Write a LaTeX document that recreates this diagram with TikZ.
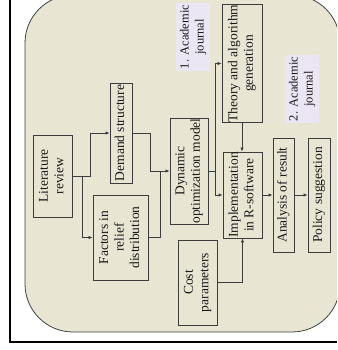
\documentclass[tikz,border=0pt]{standalone}
\usepackage{fontspec}
\setmainfont{Liberation Serif}
\usetikzlibrary{arrows.meta}
\definecolor{bg}{RGB}{232,229,211}
\definecolor{lav}{RGB}{234,230,244}
\definecolor{ln}{RGB}{60,60,60}
\tikzset{
  box/.style={draw=ln, line width=0.7pt, inner sep=0pt, align=center,
    font=\fontsize{13.5}{15.5}\selectfont, text=black!90},
  conn/.style={draw=ln, line width=0.6pt},
  arr/.style={conn, -{Latex[length=4pt,width=3.2pt]}},
  lab/.style={fill=lav, inner sep=2pt, align=center,
    font=\fontsize{12.5}{15}\selectfont, text=black!90}
}
\newcommand{\rt}[1]{\rotatebox{90}{\begin{tabular}{@{}c@{}}#1\end{tabular}}}
\begin{document}
\begin{tikzpicture}[x=1pt,y=-1pt]
\useasboundingbox (0,0) rectangle (337,350);
\clip (0,0) rectangle (337,350);
\fill[white] (0,0) rectangle (337,350);
\draw[black, line width=1.2pt] (10,0) -- (10,342) -- (337,342);
\draw[fill=bg, draw=black!75, line width=0.8pt, rounded corners=48pt] (25,-5) rectangle (340,332);

\node[lab] (j1) at (193,37) {\rt{1. Academic\\journal}};
\node[lab] (j2) at (302,89) {\rt{2. Academic\\journal}};

\node[box, minimum width=39pt, minimum height=82pt] (lit) at (52.5,176) {\rt{Literature\\review}};
\node[box, minimum width=22pt, minimum height=100pt] (demand) at (121,133) {\rt{Demand structure}};
\node[box, minimum width=55pt, minimum height=85pt] (factors) at (120.5,237.5) {\rt{Factors in\\relief\\distribution}};
\node[box, minimum width=38pt, minimum height=106pt] (dynamic) at (189,171) {\rt{Dynamic\\optimization model}};
\node[box, minimum width=40pt, minimum height=117pt] (theory) at (242,63.5) {\rt{Theory and algorithm\\generation}};
\node[box, minimum width=39pt, minimum height=86pt] (impl) at (242.5,195) {\rt{Implementation\\in R-software}};
\node[box, minimum width=39pt, minimum height=85pt] (cost) at (197.5,282.5) {\rt{Cost\\parameters}};
\node[box, minimum width=21pt, minimum height=114pt] (analysis) at (283.5,195) {\rt{Analysis of result}};
\node[box, minimum width=22pt, minimum height=114pt] (policy) at (319,195) {\rt{Policy suggestion}};

\coordinate (b1) at (82,176);
\coordinate (b2) at (215,171);
\draw[arr] (lit.east) -- (90,176) |- (demand.west);
\draw[arr] (b1) |- (factors.west);
\draw[arr] (demand.east) -- (150,133) |- (dynamic.west);
\draw[conn] (factors.east) -| (160,171);
\draw[conn] (dynamic.east) -- (b2);
\draw[arr] (b2) |- (theory.west);
\draw[arr] (b2) |- (impl.west);
\draw[arr] (theory.south) -- (theory.south |- impl.north);
\draw[arr] (cost.east) -| (impl.south);
\draw[arr] (impl.east) -- (analysis.west);
\draw[arr] (analysis.east) -- (policy.west);
\end{tikzpicture}
\end{document}
